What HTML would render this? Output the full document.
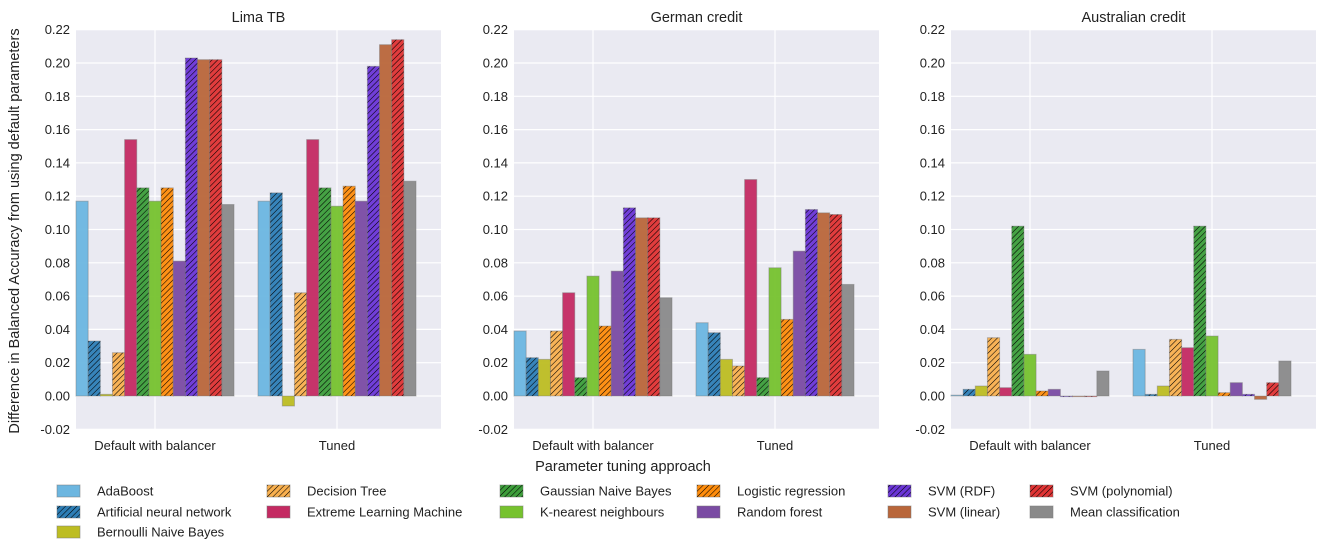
<!DOCTYPE html>
<html><head><meta charset="utf-8">
<style>
body{margin:0;background:#fff;}
svg{display:block;font-family:"Liberation Sans",Arial,sans-serif;}
</style></head>
<body>
<svg id="chart" width="1325" height="556" viewBox="0 0 1325 556">
<defs>
<pattern id="hatch" patternUnits="userSpaceOnUse" width="4" height="4" patternTransform="rotate(45)">
<line x1="0" y1="0" x2="0" y2="4" stroke="#000" stroke-width="1.1"/>
</pattern>
</defs>
</svg>
<script>
const panelTitles = ["Lima TB", "German credit", "Australian credit"];
const groups = ["Default with balancer", "Tuned"];
const models = ["AdaBoost","Artificial neural network","Bernoulli Naive Bayes","Decision Tree","Extreme Learning Machine","Gaussian Naive Bayes","K-nearest neighbours","Logistic regression","Random forest","SVM (RDF)","SVM (linear)","SVM (polynomial)","Mean classification"];
const limaDefault = [0.117,0.033,0.001,0.026,0.154,0.125,0.117,0.125,0.081,0.203,0.202,0.202,0.115];
const limaTuned = [0.117,0.122,-0.006,0.062,0.154,0.125,0.114,0.126,0.117,0.198,0.211,0.214,0.129];
const germanDefault = [0.039,0.023,0.022,0.039,0.062,0.011,0.072,0.042,0.075,0.113,0.107,0.107,0.059];
const germanTuned = [0.044,0.038,0.022,0.018,0.130,0.011,0.077,0.046,0.087,0.112,0.110,0.109,0.067];
const ausDefault = [0.0005,0.004,0.006,0.035,0.005,0.102,0.025,0.003,0.004,0,0,0,0.015];
const ausTuned = [0.028,0.001,0.006,0.034,0.029,0.102,0.036,0.002,0.008,0.001,-0.002,0.008,0.021];
const yTicks = [-0.02,0,0.02,0.04,0.06,0.08,0.10,0.12,0.14,0.16,0.18,0.20,0.22];

const colors = ["#6cb6e0","#2d7eb6","#bdbd22","#f9b04e","#c42a62","#3c9e3a","#76c22e","#ff8c0a","#7a4ba3","#6a35d6","#b9663a","#e03333","#8a8a8a"];
const hatched = [false,true,false,true,false,true,false,true,false,true,false,true,false];
const data = [[limaDefault,limaTuned],[germanDefault,germanTuned],[ausDefault,ausTuned]];

const svg = document.getElementById('chart');
const NS = "http://www.w3.org/2000/svg";
function mk(tag, attrs, parent){const e=document.createElementNS(NS,tag);for(const k in attrs)e.setAttribute(k,attrs[k]);(parent||svg).appendChild(e);return e;}

const plotTop = 29.7, plotBottom = 429.3, yMin = -0.02, yMax = 0.22;
function yScale(v){return plotBottom - (v - yMin)/(yMax - yMin)*(plotBottom-plotTop);}
const panelLefts = [76, 514, 951];
const panelW = 365;
const barW = 158/13;
const groupStep = 182;

panelLefts.forEach((L, p) => {
  const g = mk('g', {});
  
  
  const bg = mk('rect', {x:L, y:plotTop, width:panelW, height:plotBottom-plotTop, fill:'#eaeaf2'}, g);
  
  
  yTicks.forEach(t => {
    const gl = mk('line', {x1:L, x2:L+panelW, y1:yScale(t), y2:yScale(t), stroke:'#fff', 'stroke-width':1.2}, g);
    
    
    const tl = mk('text', {x:L-6, y:yScale(t)+4.5, 'text-anchor':'end', 'font-size':13, fill:'#222'}, g);
    tl.textContent = t.toFixed(2);
    
    
  });
  groups.forEach((gn, gi) => {
    const cx = L + 79 + gi*groupStep;
    const gl = mk('line', {x1:cx, x2:cx, y1:plotTop, y2:plotBottom, stroke:'#fff', 'stroke-width':1.2}, g);
    
    
    const tl = mk('text', {x:cx, y:450, 'text-anchor':'middle', 'font-size':13, fill:'#222'}, g);
    tl.textContent = gn;
    
    
  });
  const tt = mk('text', {x:L+panelW/2, y:22, 'text-anchor':'middle', 'font-size':14.5, fill:'#222'}, g);
  tt.textContent = panelTitles[p];
  
  
  groups.forEach((gn, gi) => {
    const vals = data[p][gi];
    vals.forEach((v, i) => {
      const x = L + gi*groupStep + i*barW;
      const y1 = Math.min(yScale(v), yScale(0)), h = Math.max(Math.abs(yScale(v)-yScale(0)), 0.6);
      const r = mk('rect', {x:x, y:y1, width:barW, height:h, fill:colors[i], 'fill-opacity':0.95, stroke:'#777', 'stroke-opacity':0.45, 'stroke-width':1}, g);
      
      
      if (hatched[i]) {
        const hr = mk('rect', {x:x, y:y1, width:barW, height:h, fill:'url(#hatch)'}, g);
        
        
      }
    });
  });
});

const yl = mk('text', {x:0, y:0, 'text-anchor':'middle', 'font-size':14.5, fill:'#222', transform:'translate(19,231) rotate(-90)'});
yl.textContent = 'Difference in Balanced Accuracy from using default parameters';


const xl = mk('text', {x:623, y:471, 'text-anchor':'middle', 'font-size':14.5, fill:'#222'});
xl.textContent = 'Parameter tuning approach';



const legendCols = [[0,1,2],[3,4],[5,6],[7,8],[9,10],[11,12]];
const colX = [57, 267, 500, 697, 888, 1030];
const rowY = [491, 512, 532];
legendCols.forEach((col, c) => {
  col.forEach((mi, r) => {
    const lg = mk('g', {});
    
    
    mk('rect', {x:colX[c], y:rowY[r]-6, width:23, height:12, fill:colors[mi], stroke:'#777', 'stroke-opacity':0.5}, lg);
    if (hatched[mi]) mk('rect', {x:colX[c], y:rowY[r]-6, width:23, height:12, fill:'url(#hatch)'}, lg);
    const t = mk('text', {x:colX[c]+40, y:rowY[r]+4.5, 'font-size':13, fill:'#222'}, lg);
    t.textContent = models[mi];
  });
});
</script>
</body></html>
